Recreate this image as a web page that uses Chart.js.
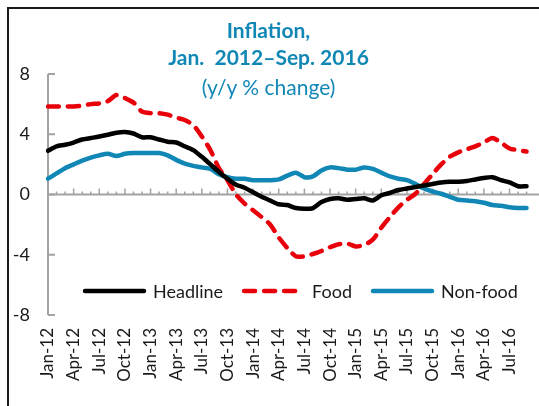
<!DOCTYPE html>
<html>
<head>
<meta charset="utf-8">
<script src="https://cdn.jsdelivr.net/npm/chart.js@4.4.1/dist/chart.umd.min.js"></script>
<style>
  html, body { margin: 0; padding: 0; background: #fff; }
  #wrap { position: relative; width: 539px; height: 406px; overflow: hidden; background: #fff; }
  #frame { position: absolute; left: 7px; top: 7px; width: 600px; height: 500px;
           border-top: 2px solid #1a1a1a; border-left: 2px solid #1a1a1a; }
  canvas { position: absolute; left: 0; top: 0; }
  .t { position: absolute; left: 0; width: 537px; text-align: center; color: #1187b6;
       font-family: Lato, "Open Sans", sans-serif; font-size: 21px; line-height: 24px; white-space: pre; }
  .b { font-weight: bold; }
</style>
</head>
<body>
<div id="wrap">
  <div id="frame"></div>
  <canvas id="c" width="560" height="406"></canvas>
  <div class="t b" style="top:18px;">Inflation,</div>
  <div class="t b" style="top:45px;">Jan.  2012–Sep. 2016</div>
  <div class="t" style="top:75px;">(y/y % change)</div>
</div>
<script>
const months = ["Jan","Feb","Mar","Apr","May","Jun","Jul","Aug","Sep","Oct","Nov","Dec"];
const categories = [];
for (let y = 12; y <= 16; y++) {
  for (let m = 0; m < 12; m++) {
    if (y === 16 && m > 8) break;
    categories.push(months[m] + "-" + y);
  }
}
const yTicks = [8, 4, 0, -4, -8];

const headline = [
  2.9, 3.2, 3.3, 3.45, 3.65, 3.75, 3.85, 3.97, 4.1, 4.15, 4.05, 3.8,
  3.8, 3.65, 3.5, 3.45, 3.2, 2.95, 2.5, 2.0, 1.5, 1.05, 0.65, 0.45,
  0.15, -0.15, -0.4, -0.65, -0.7, -0.9, -0.95, -0.9, -0.5, -0.3, -0.25, -0.35,
  -0.3, -0.25, -0.4, -0.05, 0.1, 0.3, 0.4, 0.5, 0.6, 0.7, 0.8, 0.85,
  0.85, 0.9, 1.0, 1.1, 1.15, 0.95, 0.8, 0.55, 0.55
];
const food = [
  5.85, 5.85, 5.85, 5.85, 5.9, 6.0, 6.05, 6.2, 6.6, 6.4, 6.1, 5.5,
  5.4, 5.4, 5.3, 5.1, 4.95, 4.6, 3.85, 2.95, 1.75, 0.95, 0.0, -0.6,
  -1.05, -1.5, -2.0, -2.85, -3.55, -4.1, -4.1, -3.95, -3.75, -3.5, -3.3, -3.25,
  -3.45, -3.35, -3.0, -2.2, -1.5, -0.85, -0.35, 0.05, 0.7, 1.35, 2.0, 2.5,
  2.8, 3.0, 3.2, 3.45, 3.75, 3.45, 3.05, 2.95, 2.85
];
const nonFood = [
  1.05, 1.4, 1.75, 2.0, 2.25, 2.45, 2.6, 2.7, 2.55, 2.7, 2.75, 2.75,
  2.75, 2.75, 2.6, 2.3, 2.05, 1.9, 1.8, 1.7, 1.35, 1.15, 1.05, 1.05,
  0.95, 0.95, 0.95, 1.0, 1.25, 1.45, 1.15, 1.2, 1.6, 1.8, 1.75, 1.65,
  1.65, 1.8, 1.7, 1.45, 1.2, 1.05, 0.95, 0.7, 0.4, 0.2, 0.05, -0.15,
  -0.35, -0.4, -0.45, -0.55, -0.7, -0.75, -0.85, -0.9, -0.9
];
const seriesNames = ["Headline", "Food", "Non-food"];

const FONT = "Lato, 'Open Sans', sans-serif";
const AXIS = "#a3a3a3";

const axesPlugin = {
  id: "axesPlugin",
  beforeDatasetsDraw(chart) {
    const ctx = chart.ctx, ca = chart.chartArea;
    const xs = chart.scales.x, ys = chart.scales.y;
    const y0 = ys.getPixelForValue(0);
    ctx.save();
    ctx.strokeStyle = AXIS;
    ctx.lineWidth = 2;
    ctx.beginPath();
    ctx.moveTo(ca.left, ys.getPixelForValue(yTicks[0]));
    ctx.lineTo(ca.left, ys.getPixelForValue(yTicks[yTicks.length - 1]));
    ctx.stroke();
    yTicks.forEach(v => {
      const p = ys.getPixelForValue(v);
      ctx.beginPath();
      ctx.moveTo(ca.left, p);
      ctx.lineTo(ca.left + 7, p);
      ctx.stroke();
    });
    ctx.beginPath();
    ctx.moveTo(ca.left, y0);
    ctx.lineTo(chart.width, y0);
    ctx.stroke();
    ctx.lineWidth = 1.5;
    for (let i = 1; i < categories.length; i++) {
      const x = xs.getPixelForValue(i);
      const h = (i % 3 === 0) ? 6 : 3;
      ctx.beginPath();
      ctx.moveTo(x, y0);
      ctx.lineTo(x, y0 - h);
      ctx.stroke();
    }
    ctx.restore();
  },
  afterDraw(chart) {
    const ctx = chart.ctx;
    ctx.save();
    ctx.font = "18px " + FONT;
    ctx.textBaseline = "middle";
    ctx.fillStyle = "#1a1a1a";
    let x = 83;
    const y = 291;
    chart.data.datasets.forEach(ds => {
      ctx.beginPath();
      ctx.strokeStyle = ds.borderColor;
      ctx.lineWidth = 4.5;
      ctx.lineCap = "round";
      ctx.setLineDash(ds.borderDash || []);
      ctx.moveTo(x + 2, y);
      ctx.lineTo(x + 61, y);
      ctx.stroke();
      ctx.setLineDash([]);
      x += 70;
      ctx.fillText(ds.label, x, y + 1);
      x += ctx.measureText(ds.label).width + 19;
    });
    ctx.restore();
  }
};

new Chart(document.getElementById("c"), {
  type: "line",
  data: {
    labels: categories,
    datasets: [
      { label: seriesNames[0], data: headline, borderColor: "#000000", borderWidth: 4.5,
        pointRadius: 0, tension: 0.25, borderCapStyle: "round", borderJoinStyle: "round" },
      { label: seriesNames[1], data: food, borderColor: "#e8000b", borderWidth: 4.5,
        borderDash: [11, 9], pointRadius: 0, tension: 0.25, borderCapStyle: "round", borderJoinStyle: "round" },
      { label: seriesNames[2], data: nonFood, borderColor: "#1187b6", borderWidth: 4.5,
        pointRadius: 0, tension: 0.25, borderCapStyle: "round", borderJoinStyle: "round" }
    ]
  },
  options: {
    responsive: false,
    animation: false,
    devicePixelRatio: 1,
    layout: { padding: { top: 74, right: 19, left: 0, bottom: 0 } },
    plugins: { legend: { display: false }, tooltip: { enabled: false } },
    scales: {
      x: {
        type: "category",
        offset: false,
        border: { display: false },
        grid: { display: false, drawTicks: false },
        ticks: {
          autoSkip: false, maxRotation: 90, minRotation: 90, padding: 13,
          color: "#1a1a1a", font: { family: FONT, size: 17 },
          callback: function (v, i) { return i % 3 === 0 ? categories[i] : ""; }
        },
        afterFit(scale) { scale.height = 91; }
      },
      y: {
        min: -8, max: 8,
        border: { display: false },
        grid: { display: false, drawTicks: false },
        afterBuildTicks(scale) { scale.ticks = yTicks.map(v => ({ value: v })); },
        ticks: { padding: 18, color: "#1a1a1a", font: { family: FONT, size: 18 } },
        afterFit(scale) { scale.width = 48; }
      }
    }
  },
  plugins: [axesPlugin]
});
</script>
</body>
</html>
